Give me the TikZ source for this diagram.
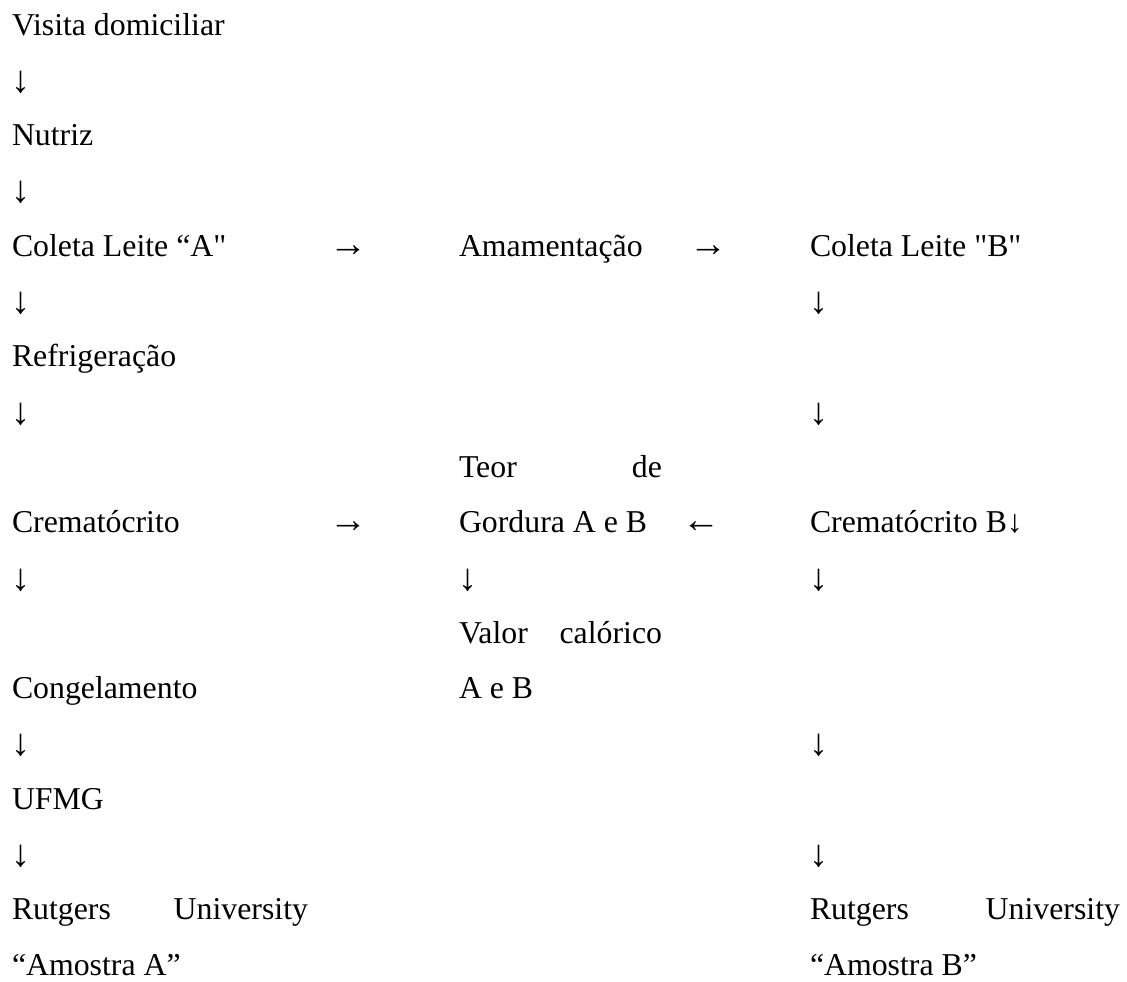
\documentclass[tikz,border=0pt]{standalone}
\usepackage{fontspec}
\setmainfont{Liberation Serif}[Ligatures=TeXOff]
\usetikzlibrary{positioning}
\tikzset{%
    flow_text/.style={%
        anchor=base west, inner sep=0pt, outer sep=0pt
    },
    flow_arrow/.style={%
        flow_text, font=\fontsize{19pt}{19pt}\selectfont
    },
}

\begin{document}
\begin{tikzpicture}[x=0.5pt,y=-0.5pt,font=\fontsize{15.9pt}{19pt}\selectfont]
    \useasboundingbox (0,0) rectangle (1127,981);

    % left column
    \node[flow_text] (visita) at (12,{35+55.3*0}) {Visita domiciliar};
    \node[flow_text] (nutriz) at (12,{35+55.3*2}) {Nutriz};
    \node[flow_text] (coletaA) at (12,{35+55.3*4}) {Coleta Leite “A"};
    \node[flow_text] (refrig) at (12,{35+55.3*6}) {Refrigeração};
    \node[flow_text] (crematA) at (12,{35+55.3*9}) {Crematócrito};
    \node[flow_text] (congel) at (12,{35+55.3*12}) {Congelamento};
    \node[flow_text] (ufmg) at (12,{35+55.3*14}) {UFMG};
    \node[flow_text] (rutgersA) at (12,{35+55.3*16}) {\makebox[148pt][s]{Rutgers University}};
    \node[flow_text] (amostraA) at (12,{35+55.3*17}) {“Amostra A”};
    \foreach \k in {1,3,5,7,10,13,15}
        \node[flow_arrow] (downA\k) at (11,{37+55.3*\k}) {↓};

    \node[flow_arrow] (toAmam) at (329,{35+55.3*4}) {→};
    \node[flow_arrow] (toTeor) at (329,{35+55.3*9}) {→};

    % middle column
    \node[flow_text] (amam) at (459,{35+55.3*4}) {Amamentação};
    \node[flow_text] (teor) at (459,{35+55.3*8}) {\makebox[101.5pt][s]{Teor de}};
    \node[flow_text] (gordura) at (459,{35+55.3*9}) {Gordura A e B};
    \node[flow_arrow] (downM) at (458,{37+55.3*10}) {↓};
    \node[flow_text] (valor) at (459,{35+55.3*11}) {\makebox[101.5pt][s]{Valor calórico}};
    \node[flow_text] (valorAB) at (459,{35+55.3*12}) {A e B};

    \node[flow_arrow] (toColB) at (689,{35+55.3*4}) {→};
    \node[flow_arrow] (fromCremB) at (682,{35+55.3*9}) {←};

    % right column
    \node[flow_text] (coletaB) at (810,{35+55.3*4}) {Coleta Leite "B"};
    \node[flow_text] (crematB) at (810,{35+55.3*9}) {Crematócrito B↓};
    \node[flow_text] (rutgersB) at (810,{35+55.3*16}) {\makebox[155pt][s]{Rutgers University}};
    \node[flow_text] (amostraB) at (810,{35+55.3*17}) {“Amostra B”};
    \foreach \k in {5,7,10,13,15}
        \node[flow_arrow] (downB\k) at (809,{37+55.3*\k}) {↓};

\end{tikzpicture}
\end{document}
